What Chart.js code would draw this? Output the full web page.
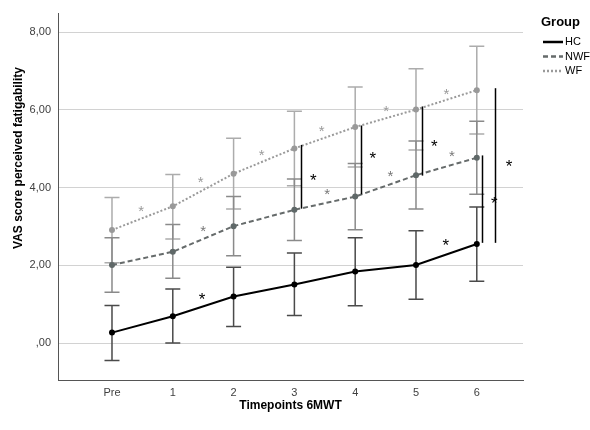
<!DOCTYPE html>
<html>
<head>
<meta charset="utf-8">
<script src="https://cdn.jsdelivr.net/npm/chart.js@4"></script>
<style>
  body { margin: 0; background: #fff; }
  #wrap { width: 590px; height: 430px; }
</style>
</head>
<body>
<div id="wrap"><canvas id="myChart" width="590" height="430"></canvas></div>
<script>
// timepoints and tick values
const timepoints = ["Pre", "1", "2", "3", "4", "5", "6"];
const yTickValues = [0, 2, 4, 6, 8];

// group means and error bar ends
const hcMean = [0.27, 0.69, 1.20, 1.51, 1.84, 2.01, 2.55];
const hcLow = [-0.45, 0.00, 0.43, 0.71, 0.96, 1.13, 1.59];
const hcHigh = [0.97, 1.39, 1.95, 2.32, 2.71, 2.89, 3.50];

const nwfMean = [2.01, 2.35, 3.01, 3.43, 3.77, 4.32, 4.77];
const nwfLow = [1.31, 1.67, 2.25, 2.64, 2.92, 3.45, 3.83];
const nwfHigh = [2.71, 3.05, 3.77, 4.22, 4.62, 5.20, 5.71];

const wfMean = [2.91, 3.52, 4.36, 5.01, 5.56, 6.01, 6.51];
const wfLow = [2.07, 2.68, 3.45, 4.05, 4.53, 4.97, 5.38];
const wfHigh = [3.75, 4.34, 5.27, 5.97, 6.59, 7.06, 7.64];

// between-group significance bars
const sigBarX = [3.11, 4.10, 5.10, 6.08, 6.30];
const sigBarTop = [5.10, 5.60, 6.09, 4.83, 6.56];
const sigBarBottom = [3.46, 3.83, 4.31, 2.58, 2.58];

// asterisks
const groupStarX = [3.31, 4.29, 5.30, 6.29, 6.53];
const groupStarY = [4.19, 4.76, 5.08, 3.61, 4.55];
const hcStarX = [1.48, 5.49];
const hcStarY = [1.15, 2.52];
const nwfStarX = [1.50, 3.54, 4.58, 5.59];
const nwfStarY = [2.90, 3.86, 4.30, 4.83];
const wfStarX = [0.48, 1.46, 2.46, 3.45, 4.51, 5.50];
const wfStarY = [3.41, 4.15, 4.86, 5.48, 5.98, 6.43];

const FONT = "'Liberation Sans', Arial, sans-serif";

const toPoints = (arr) => arr.map((v, i) => ({ x: i, y: v }));

const groups = [
  { label: "HC", mean: hcMean, low: hcLow, high: hcHigh, line: "#000000", point: "#000000", bar: "#4a4a4a", dash: [], starX: hcStarX, starY: hcStarY, star: "#000000" },
  { label: "NWF", mean: nwfMean, low: nwfLow, high: nwfHigh, line: "#666b6b", point: "#5f6868", bar: "#8a8a8a", dash: [5, 3], starX: nwfStarX, starY: nwfStarY, star: "#777777" },
  { label: "WF", mean: wfMean, low: wfLow, high: wfHigh, line: "#9a9a9a", point: "#999999", bar: "#acacac", dash: [2, 2], starX: wfStarX, starY: wfStarY, star: "#9a9a9a" },
];

// error bars, significance bars, asterisks, y title and legend
const extrasPlugin = {
  id: "extras",
  beforeDatasetsDraw(chart) {
    const { ctx, scales: { x, y } } = chart;
    ctx.save();
    ctx.lineWidth = 1.5;
    // draw WF first so HC sits on top
    [...groups].reverse().forEach((g) => {
      ctx.strokeStyle = g.bar;
      g.mean.forEach((m, i) => {
        const px = x.getPixelForValue(i);
        const top = y.getPixelForValue(g.high[i]);
        const bot = y.getPixelForValue(g.low[i]);
        ctx.beginPath();
        ctx.moveTo(px, top); ctx.lineTo(px, bot);
        ctx.moveTo(px - 7.5, top); ctx.lineTo(px + 7.5, top);
        ctx.moveTo(px - 7.5, bot); ctx.lineTo(px + 7.5, bot);
        ctx.stroke();
      });
    });
    ctx.restore();
  },
  afterDatasetsDraw(chart) {
    const { ctx, scales: { x, y } } = chart;
    ctx.save();
    ctx.strokeStyle = "#000";
    ctx.lineWidth = 1.5;
    sigBarX.forEach((v, i) => {
      const px = Math.round(x.getPixelForValue(v)) + 0.5;
      ctx.beginPath();
      ctx.moveTo(px, y.getPixelForValue(sigBarTop[i]));
      ctx.lineTo(px, y.getPixelForValue(sigBarBottom[i]));
      ctx.stroke();
    });

    const drawStar = (sx, sy, color, size) => {
      ctx.fillStyle = color;
      ctx.font = size + "px " + FONT;
      ctx.textAlign = "center";
      ctx.textBaseline = "alphabetic";
      const px = x.getPixelForValue(sx);
      const py = y.getPixelForValue(sy);
      ctx.fillText("*", px, py + size * 0.36);
    };
    groupStarX.forEach((v, i) => drawStar(v, groupStarY[i], "#000", 17));
    groups.forEach((g) => {
      g.starX.forEach((v, i) => drawStar(v, g.starY[i], g.star, g.label === "HC" ? 17 : 15));
    });

    // y axis title (SPSS places it above the axis centre)
    ctx.save();
    ctx.translate(19, 158);
    ctx.rotate(-Math.PI / 2);
    ctx.fillStyle = "#000";
    ctx.font = "bold 12px " + FONT;
    ctx.textAlign = "center";
    ctx.textBaseline = "middle";
    ctx.fillText("VAS score perceived fatigability", 0, 0);
    ctx.restore();

    // legend
    ctx.fillStyle = "#000";
    ctx.textAlign = "left";
    ctx.textBaseline = "middle";
    ctx.font = "bold 13px " + FONT;
    ctx.fillText("Group", 541, 22);
    ctx.font = "11px " + FONT;
    groups.forEach((g, i) => {
      const ly = 42 + i * 14.5;
      ctx.strokeStyle = g.line;
      ctx.lineWidth = 2.5;
      ctx.setLineDash(g.dash);
      ctx.beginPath();
      ctx.moveTo(543, ly); ctx.lineTo(563, ly);
      ctx.stroke();
      ctx.setLineDash([]);
      ctx.fillStyle = "#000";
      ctx.fillText(g.label, 565, ly);
    });
    ctx.restore();
  },
};

const ctx = document.getElementById("myChart");

new Chart(ctx, {
  type: "line",
  data: {
    datasets: groups.map((g) => ({
      label: g.label,
      data: toPoints(g.mean),
      borderColor: g.line,
      borderWidth: 2,
      borderDash: g.dash,
      pointRadius: 3,
      pointBorderWidth: 0,
      pointBackgroundColor: g.point,
      pointBorderColor: g.point,
      tension: 0,
    })),
  },
  options: {
    responsive: false,
    animation: false,
    layout: { padding: { left: 0, right: 67, top: 8, bottom: 16 } },
    scales: {
      x: {
        type: "linear",
        min: -0.888,
        max: 6.76,
        afterBuildTicks: (scale) => {
          scale.ticks = timepoints.map((t, i) => ({ value: i }));
        },
        afterFit: (scale) => { scale.height = 34; },
        ticks: {
          callback: (v) => timepoints[v],
          color: "#404040",
          font: { family: FONT, size: 11 },
          padding: 6,
          maxRotation: 0,
        },
        grid: { display: false, drawTicks: false },
        border: { display: true, color: "#555555", width: 1 },
        title: {
          display: true,
          text: "Timepoints 6MWT",
          color: "#000",
          font: { family: FONT, size: 12, weight: "bold" },
          padding: { top: 0, bottom: 1 },
        },
      },
      y: {
        min: -0.95,
        max: 8.48,
        afterBuildTicks: (scale) => {
          scale.ticks = yTickValues.map((v) => ({ value: v }));
        },
        afterFit: (scale) => { scale.width = 58; },
        ticks: {
          callback: (v) => (v === 0 ? ",00" : v.toFixed(2).replace(".", ",")),
          color: "#404040",
          font: { family: FONT, size: 11 },
          padding: 7,
        },
        grid: { color: "#d2d2d2", lineWidth: 1, drawTicks: false },
        border: { display: true, color: "#555555", width: 1 },
        title: { display: false },
      },
    },
    plugins: {
      legend: { display: false },
      tooltip: { enabled: false },
    },
  },
  plugins: [extrasPlugin],
});
</script>
</body>
</html>
